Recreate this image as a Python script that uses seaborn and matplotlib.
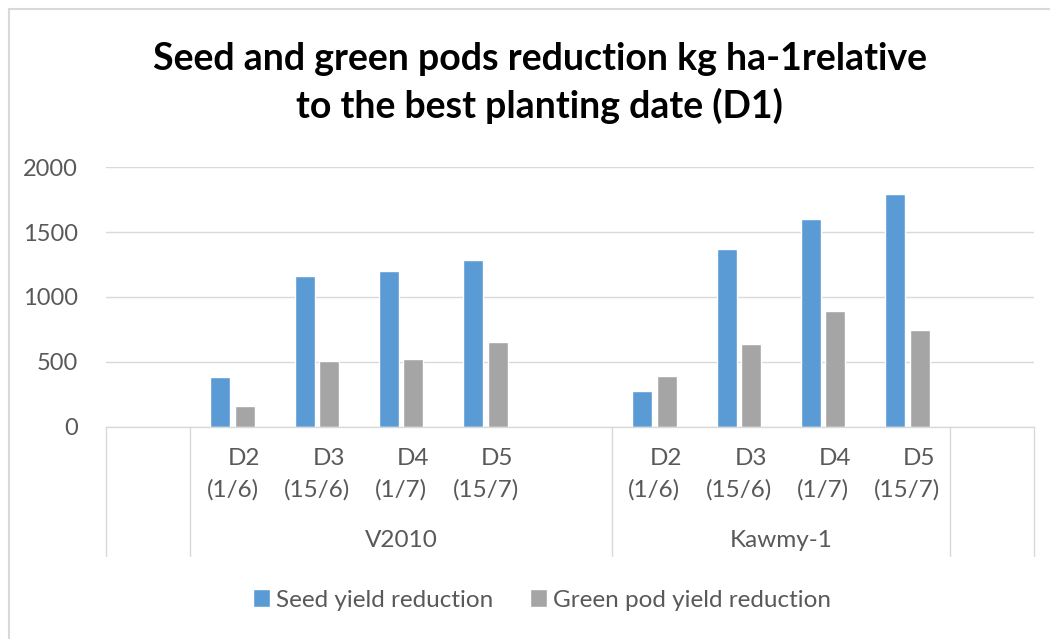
import pandas as pd
import matplotlib.pyplot as plt
import matplotlib.transforms as mtransforms
from matplotlib.patches import Rectangle
import seaborn as sns

# ---------------------------------------------------------
# Data (kg ha-1)
# ---------------------------------------------------------
VARIETIES = ['V2010', 'Kawmy-1']
DATES = ['D2', 'D3', 'D4', 'D5']
DATE_LABELS = ['(1/6)', '(15/6)', '(1/7)', '(15/7)']
SERIES = ['Seed yield reduction', 'Green pod yield reduction']

SEED_V2010 = [382, 1165, 1198, 1285]
GREEN_V2010 = [155, 502, 524, 655]
SEED_KAWMY = [273, 1372, 1601, 1797]
GREEN_KAWMY = [392, 633, 893, 741]

COLORS = ['#5b9bd5', '#a5a5a5']
TEXT_GREY = '#595959'
GRID_GREY = '#d9d9d9'

sns.set_theme(style='white')
plt.rcParams['font.family'] = ['Lato', 'DejaVu Sans']

# Excel-style category axis: blank slot, V2010 (4 dates + blank), Kawmy-1 (4 dates), blank
order = (['_lead']
         + [f'V2010 {d}' for d in DATES] + ['_mid']
         + [f'Kawmy-1 {d}' for d in DATES] + ['_tail'])

rows = []
for var, seed, green in [('V2010', SEED_V2010, GREEN_V2010),
                         ('Kawmy-1', SEED_KAWMY, GREEN_KAWMY)]:
    for d, s, g in zip(DATES, seed, green):
        rows.append({'slot': f'{var} {d}', 'series': SERIES[0], 'value': s})
        rows.append({'slot': f'{var} {d}', 'series': SERIES[1], 'value': g})
df = pd.DataFrame(rows)

fig = plt.figure(figsize=(10.5, 6.39), dpi=100)
ax = fig.add_axes([106 / 1050, 1 - 426.5 / 639, (1034 - 106) / 1050, (426.5 - 167.3) / 639])

sns.barplot(data=df, x='slot', y='value', hue='series', order=order,
            hue_order=SERIES, palette=COLORS, width=0.576, gap=0.177,
            saturation=1, errorbar=None, ax=ax, legend=True)

ax.set_ylim(0, 2000)
ax.set_xlim(-0.5, len(order) - 0.5)
ax.set_yticks([0, 500, 1000, 1500, 2000])
ax.tick_params(axis='y', length=0, labelsize=17, labelcolor=TEXT_GREY, pad=20)
ax.set_xticks([])
ax.set_xlabel('')
ax.set_ylabel('')
ax.yaxis.grid(True, color=GRID_GREY, linewidth=1)
ax.set_axisbelow(True)
for side in ['top', 'right', 'left']:
    ax.spines[side].set_visible(False)
ax.spines['bottom'].set_color(GRID_GREY)
ax.spines['bottom'].set_linewidth(1)

# category labels and separators below the axis
trans = mtransforms.blended_transform_factory(ax.transData, ax.transAxes)
for slot_i, name in enumerate(order):
    if name.startswith('_'):
        continue
    d = name.split(' ')[1]
    ax.text(slot_i + 0.14, -0.122, d, transform=trans, ha='center', va='center',
            fontsize=17.5, color=TEXT_GREY)
    ax.text(slot_i, -0.245, DATE_LABELS[DATES.index(d)], transform=trans,
            ha='center', va='center', fontsize=17.5, color=TEXT_GREY)

seps = [-0.5, 0.5, 5.5, 9.5, 10.5]
for s in seps:
    ax.plot([s, s], [0, -0.5], transform=trans, color=GRID_GREY, lw=1, clip_on=False)

group_centers = [3.0, 7.5]
for var, c in zip(VARIETIES, group_centers):
    ax.text(c, -0.44, var, transform=trans, ha='center', va='center',
            fontsize=17.5, color=TEXT_GREY)

# legend
handles, labels = ax.get_legend_handles_labels()
ax.get_legend().remove()
fig.legend(handles, labels, loc='center', bbox_to_anchor=(0.516, 1 - 600 / 639),
           ncol=2, frameon=False, fontsize=17.5, labelcolor=TEXT_GREY,
           handlelength=0.7, handleheight=0.7, handletextpad=0.25, columnspacing=1.5)

fig.suptitle('Seed and green pods reduction kg ha-1relative\nto the best planting date (D1)',
             x=0.514, y=1 - 42 / 639, va='top', fontsize=27, fontweight='bold',
             color='black', linespacing=1.38)

fig.patches.append(Rectangle((9 / 1050, -0.01), 1.02, 1 - 9 / 639 + 0.01,
                             transform=fig.transFigure, fill=False,
                             edgecolor='#d9d9d9', linewidth=1.5))

fig.savefig('out.png', dpi=100)
